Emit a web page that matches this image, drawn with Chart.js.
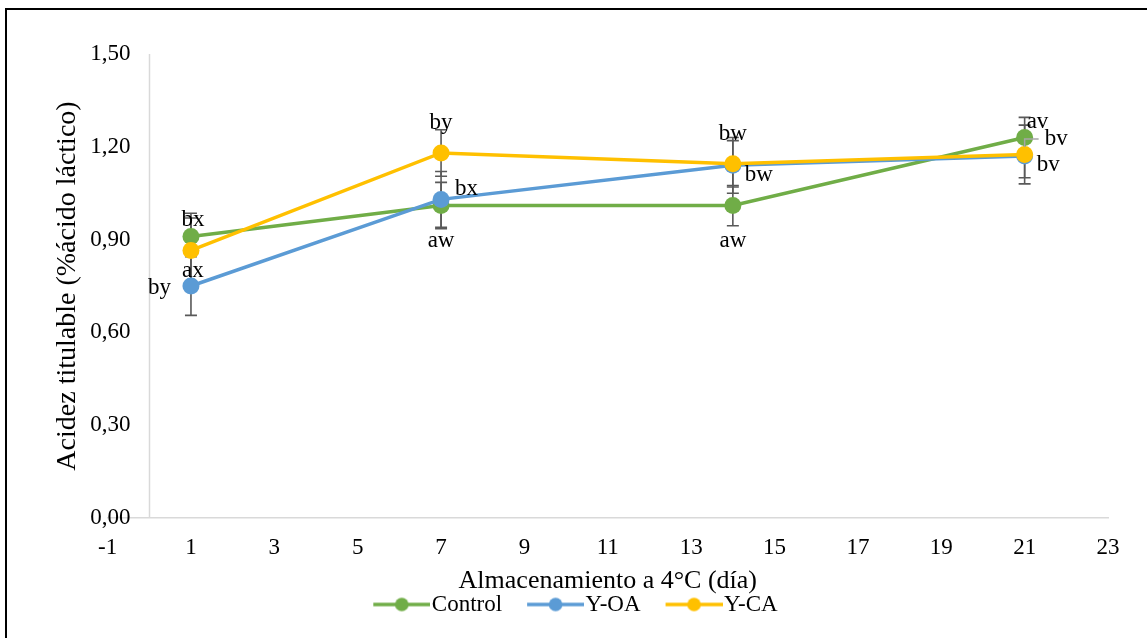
<!DOCTYPE html>
<html>
<head>
<meta charset="utf-8">
<script src="https://cdn.jsdelivr.net/npm/chart.js@4.4.0/dist/chart.umd.min.js"></script>
<style>
  html, body { margin: 0; padding: 0; background: #fff; overflow: hidden; }
  #wrap { position: relative; width: 1147px; height: 638px; }
  #frame { position: absolute; left: 5px; top: 8px; width: 1200px; height: 700px;
           border-left: 2px solid #000; border-top: 2px solid #000; pointer-events: none; }
  canvas { position: absolute; left: 0; top: 0; }
</style>
</head>
<body>
<div id="wrap">
  <div id="frame"></div>
  <canvas id="acidez" width="1147" height="638"></canvas>
</div>
<script>
(function() {

  // data
  const days = [1, 7, 14, 21];
  const seriesNames = ['Control', 'Y-OA', 'Y-CA'];
  const control = [0.91, 1.01, 1.01, 1.23];
  const yOA = [0.75, 1.03, 1.14, 1.17];
  const yCA = [0.865, 1.18, 1.145, 1.175];
  const controlErr = [0.06, 0.075, 0.065, 0.065];
  const yOAErr = [0.095, 0.09, 0.09, 0.07];
  const yCAErr = [0.12, 0.075, 0.075, 0.095];
  const controlLetters = ['bx', 'aw', 'aw', 'av'];
  const yOALetters = ['by', 'bx', 'bw', 'bv'];
  const yCALetters = ['ax', 'by', 'bw', 'bv'];
  const xTicks = [-1, 1, 3, 5, 7, 9, 11, 13, 15, 17, 19, 21, 23];
  const yTicks = [0, 0.3, 0.6, 0.9, 1.2, 1.5];

  // where each letter sits next to its point
  const controlPlace = ['aboveNear', 'below', 'below', 'aboveRight'];
  const yOAPlace = ['left', 'right', 'rightBelow', 'farRight'];
  const yCAPlace = ['belowNear', 'above', 'above', 'rightBelow'];
  const placeOffsets = {
    above:      { dx: 0,   dy: -24, align: 'center' },
    aboveNear:  { dx: 2,   dy: -11, align: 'center' },
    aboveRight: { dx: 2,   dy: -10, align: 'left' },
    below:      { dx: 0,   dy: 41,  align: 'center' },
    belowNear:  { dx: 2,   dy: 27,  align: 'center' },
    left:       { dx: -20, dy: 8,   align: 'right' },
    right:      { dx: 14,  dy: -4,  align: 'left' },
    rightBelow: { dx: 12,  dy: 16,  align: 'left' },
    farRight:   { dx: 20,  dy: -11, align: 'left', leader: true }
  };

  const FONT = '"Liberation Serif", "Times New Roman", serif';
  const colors = ['#70AD47', '#5B9BD5', '#FFC000'];

  function toPoints(values) {
    return days.map((d, i) => ({ x: d, y: values[i] }));
  }

  function legendIcon(color) {
    const c = document.createElement('canvas');
    c.width = 92;
    c.height = 18;
    const g = c.getContext('2d');
    g.strokeStyle = color;
    g.lineWidth = 3.5;
    g.beginPath();
    g.moveTo(35, 9);
    g.lineTo(92, 9);
    g.stroke();
    g.fillStyle = color;
    g.beginPath();
    g.arc(63.5, 9, 6.8, 0, Math.PI * 2);
    g.fill();
    return c;
  }

  const errorBars = {
    id: 'errorBars',
    beforeDatasetsDraw(chart) {
      const { ctx, scales: { x, y } } = chart;
      ctx.save();
      // vertical axis line crossing at x = 0
      const x0 = Math.round(x.getPixelForValue(0)) + 0.5;
      ctx.strokeStyle = '#d9d9d9';
      ctx.lineWidth = 1.5;
      ctx.beginPath();
      ctx.moveTo(x0, chart.chartArea.top);
      ctx.lineTo(x0, chart.chartArea.bottom);
      ctx.stroke();

      ctx.strokeStyle = '#595959';
      ctx.lineWidth = 1.6;
      chart.data.datasets.forEach(ds => {
        ds.data.forEach((p, i) => {
          const e = ds.errors[i];
          const px = x.getPixelForValue(p.x);
          const top = y.getPixelForValue(p.y + e);
          const bot = y.getPixelForValue(p.y - e);
          ctx.beginPath();
          ctx.moveTo(px, top);
          ctx.lineTo(px, bot);
          ctx.moveTo(px - 6, top);
          ctx.lineTo(px + 6, top);
          ctx.moveTo(px - 6, bot);
          ctx.lineTo(px + 6, bot);
          ctx.stroke();
        });
      });
      ctx.restore();
    }
  };

  const letterLabels = {
    id: 'letterLabels',
    afterDatasetsDraw(chart) {
      const { ctx } = chart;
      ctx.save();
      ctx.font = '23px ' + FONT;
      ctx.fillStyle = '#000';
      ctx.textBaseline = 'alphabetic';
      chart.data.datasets.forEach((ds, di) => {
        const meta = chart.getDatasetMeta(di);
        meta.data.forEach((pt, i) => {
          const o = placeOffsets[ds.places[i]];
          if (o.leader) {
            // small leader line from the point to its label
            ctx.strokeStyle = '#a6a6a6';
            ctx.lineWidth = 1.5;
            ctx.beginPath();
            ctx.moveTo(pt.x, pt.y - 9);
            ctx.lineTo(pt.x, pt.y - 17);
            ctx.lineTo(pt.x + o.dx - 6, pt.y - 17);
            ctx.stroke();
          }
          ctx.textAlign = o.align;
          ctx.fillText(ds.letters[i], pt.x + o.dx, pt.y + o.dy);
        });
      });
      ctx.restore();
    }
  };

  const makeSet = (label, values, errors, letters, places, color, order) => ({
    label: label,
    data: toPoints(values),
    errors: errors,
    letters: letters,
    places: places,
    order: order,
    borderColor: color,
    backgroundColor: color,
    borderWidth: 3.5,
    pointRadius: 8.5,
    pointHoverRadius: 8.5,
    pointBorderWidth: 0,
    tension: 0
  });

  const ctx = document.getElementById('acidez').getContext('2d');
  new Chart(ctx, {
    type: 'line',
    data: {
      datasets: [
        makeSet(seriesNames[0], control, controlErr, controlLetters, controlPlace, colors[0], 3),
        makeSet(seriesNames[1], yOA, yOAErr, yOALetters, yOAPlace, colors[1], 2),
        makeSet(seriesNames[2], yCA, yCAErr, yCALetters, yCAPlace, colors[2], 1)
      ]
    },
    options: {
      responsive: false,
      animation: false,
      events: [],
      layout: { padding: { left: 18, right: 39, top: 54, bottom: 12 } },
      scales: {
        x: {
          type: 'linear',
          min: -1,
          max: 23,
          afterBuildTicks: scale => { scale.ticks = xTicks.map(v => ({ value: v })); },
          grid: { display: false, drawTicks: false },
          border: { display: true, color: '#d9d9d9', width: 1.5 },
          ticks: { color: '#000', font: { family: FONT, size: 23 }, padding: 16,
                   maxRotation: 0, autoSkip: false, callback: v => String(v) },
          title: { display: true, text: 'Almacenamiento a 4°C (día)', color: '#000',
                   font: { family: FONT, size: 26, lineHeight: 0.9 }, padding: { top: -8, bottom: 0 } }
        },
        y: {
          type: 'linear',
          position: { x: -0.45 },
          min: 0,
          max: 1.5,
          afterBuildTicks: scale => { scale.ticks = yTicks.map(v => ({ value: v })); },
          grid: { display: false, drawTicks: false },
          border: { display: false },
          ticks: { color: '#000', font: { family: FONT, size: 23 },
                   callback: v => v.toFixed(2).replace('.', ',') }
        },
        yTitle: {
          type: 'linear',
          position: 'left',
          display: true,
          grid: { display: false, drawTicks: false },
          border: { display: false },
          ticks: { display: false },
          title: { display: true, text: 'Acidez titulable (%ácido láctico)', color: '#000',
                   font: { family: FONT, size: 28 }, padding: { top: 33, bottom: 23 } }
        }
      },
      plugins: {
        tooltip: { enabled: false },
        legend: {
          display: true,
          position: 'bottom',
          labels: {
            usePointStyle: true,
            pointStyleWidth: 72,
            padding: 0,
            color: '#000',
            font: { family: FONT, size: 23 },
            generateLabels: chart => chart.data.datasets.map((ds, i) => ({
              text: ds.label,
              pointStyle: legendIcon(ds.borderColor),
              fillStyle: ds.borderColor,
              strokeStyle: ds.borderColor,
              lineWidth: 0,
              hidden: false,
              datasetIndex: i
            }))
          }
        }
      }
    },
    plugins: [errorBars, letterLabels]
  });
})();
</script>
</body>
</html>
